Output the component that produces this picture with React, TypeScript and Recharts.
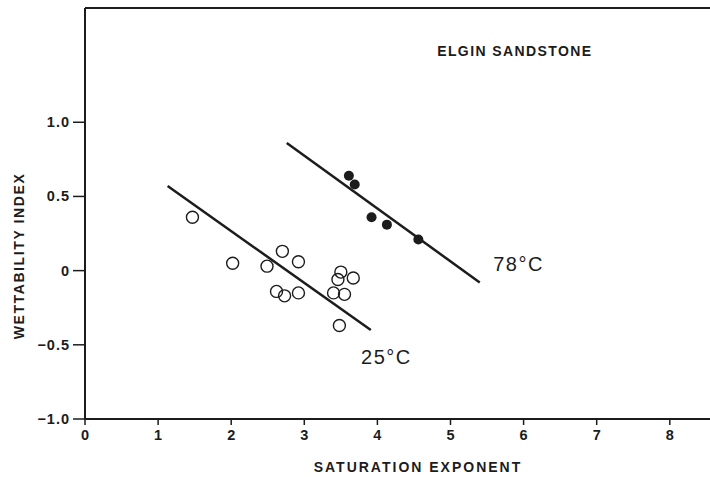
import { ComposedChart, Scatter, XAxis, YAxis, ReferenceLine, ReferenceDot, Label } from "recharts"

const xTicks = [0, 1, 2, 3, 4, 5, 6, 7, 8]
const yTicks = [-1.0, -0.5, 0, 0.5, 1.0]

// open circles, measured at 25 C
const points25 = [
  { x: 1.47, y: 0.36 },
  { x: 2.02, y: 0.05 },
  { x: 2.49, y: 0.03 },
  { x: 2.7, y: 0.13 },
  { x: 2.92, y: 0.06 },
  { x: 2.62, y: -0.14 },
  { x: 2.73, y: -0.17 },
  { x: 2.92, y: -0.15 },
  { x: 3.4, y: -0.15 },
  { x: 3.5, y: -0.01 },
  { x: 3.46, y: -0.06 },
  { x: 3.55, y: -0.16 },
  { x: 3.67, y: -0.05 },
  { x: 3.48, y: -0.37 },
]

// filled circles, measured at 78 C
const points78 = [
  { x: 3.61, y: 0.64 },
  { x: 3.69, y: 0.58 },
  { x: 3.92, y: 0.36 },
  { x: 4.13, y: 0.31 },
  { x: 4.56, y: 0.21 },
]

const fit25 = [
  { x: 1.13, y: 0.57 },
  { x: 3.91, y: -0.4 },
]
const fit78 = [
  { x: 2.76, y: 0.86 },
  { x: 5.4, y: -0.08 },
]

const X_MAX = 8.55
const Y_MIN = -1.0
const Y_MAX = 1.77

const INK = "#1c1c1c"
const FONT = "'Liberation Sans', Arial, Helvetica, sans-serif"

const XTick = (p: any) => (
  <text
    x={p.x}
    y={p.y + 15}
    textAnchor="middle"
    fill={INK}
    fontSize={14.5}
    fontWeight={700}
    fontFamily={FONT}
  >
    {String(p.payload.value)}
  </text>
)

const YTick = (p: any) => {
  const v = p.payload.value as number
  const s = v === 0 ? "0" : v.toFixed(1).replace("-", "\u2212")
  return (
    <text
      x={p.x}
      y={p.y + 5}
      textAnchor="end"
      fill={INK}
      fontSize={14.5}
      fontWeight={700}
      fontFamily={FONT}
      letterSpacing={1}
    >
      {s}
    </text>
  )
}

const OpenDot = (p: any) => (
  <circle cx={p.cx} cy={p.cy} r={6} fill="none" stroke={INK} strokeWidth={1.4} />
)
const FilledDot = (p: any) => <circle cx={p.cx} cy={p.cy} r={5} fill={INK} />
const NoDot = () => <g />

const textAt = (value: string, size: number, bold: boolean, spacing: number, anchor = "start") =>
  (p: any) => (
    <text
      x={p.cx}
      y={p.cy}
      fill={INK}
      fontSize={size}
      fontWeight={bold ? 700 : 400}
      fontFamily={FONT}
      letterSpacing={spacing}
      textAnchor={anchor}
    >
      {value}
    </text>
  )

export default function App() {
  return (
    <div style={{ position: "absolute", left: 0, top: 0, background: "#fff" }}>
      <ComposedChart width={710} height={477} margin={{ top: 8, right: 0, bottom: 0, left: 0 }}>
        <XAxis
          type="number"
          dataKey="x"
          domain={[0, X_MAX]}
          ticks={xTicks}
          allowDataOverflow
          height={58}
          tickSize={6}
          tickMargin={0}
          tick={XTick}
          axisLine={{ stroke: INK, strokeWidth: 2 }}
          tickLine={{ stroke: INK, strokeWidth: 1.5 }}
        >
          <Label
            content={(p: any) => (
              <text
                x={(p.viewBox?.x ?? 85) + 333}
                y={(p.viewBox?.y ?? 419) + 53}
                textAnchor="middle"
                fill={INK}
                fontSize={14}
                fontWeight={700}
                fontFamily={FONT}
                letterSpacing={2}
              >
                SATURATION EXPONENT
              </text>
            )}
          />
        </XAxis>
        <YAxis
          type="number"
          dataKey="y"
          domain={[Y_MIN, Y_MAX]}
          ticks={yTicks}
          allowDataOverflow
          width={85}
          tickSize={12}
          tickMargin={3}
          tick={YTick}
          axisLine={{ stroke: INK, strokeWidth: 2 }}
          tickLine={{ stroke: INK, strokeWidth: 1.5 }}
        >
          <Label
            content={() => (
              <text
                x={18.5}
                y={256}
                transform="rotate(-90 18.5 256)"
                textAnchor="middle"
                dominantBaseline="central"
                fill={INK}
                fontSize={14}
                fontWeight={700}
                fontFamily={FONT}
                letterSpacing={1.6}
              >
                WETTABILITY INDEX
              </text>
            )}
          />
        </YAxis>
        <ReferenceLine y={Y_MAX} stroke={INK} strokeWidth={2} />
        <Scatter data={fit25} line={{ stroke: INK, strokeWidth: 2.5 }} shape={NoDot} isAnimationActive={false} />
        <Scatter data={fit78} line={{ stroke: INK, strokeWidth: 2.5 }} shape={NoDot} isAnimationActive={false} />
        <Scatter data={points25} shape={OpenDot} isAnimationActive={false} />
        <Scatter data={points78} shape={FilledDot} isAnimationActive={false} />
        <ReferenceDot x={5.88} y={1.446} shape={textAt("ELGIN SANDSTONE", 14, true, 1.4, "middle")} />
        <ReferenceDot x={5.585} y={0.0} shape={textAt("78°C", 20, false, 1.5)} />
        <ReferenceDot x={3.776} y={-0.63} shape={textAt("25°C", 20, false, 1.5)} />
      </ComposedChart>
    </div>
  )
}
